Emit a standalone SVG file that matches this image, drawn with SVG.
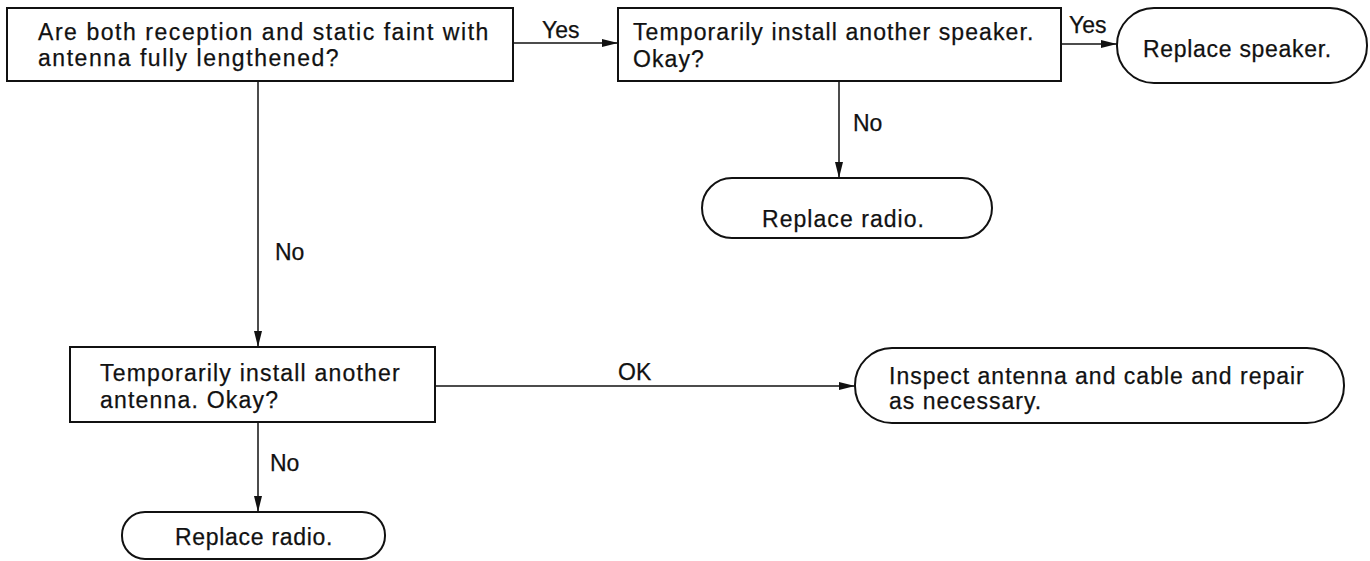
<svg xmlns="http://www.w3.org/2000/svg" width="1370" height="561" viewBox="0 0 1370 561">
<style>
.box{fill:#fff;stroke:#111;stroke-width:2}
.t{font-family:"Liberation Sans",Arial,sans-serif;font-size:23px;fill:#111;stroke:#111;stroke-width:0.25;letter-spacing:1px}
.c{stroke:#111;stroke-width:1.5;fill:none;marker-end:url(#ah)}
</style>
<defs>
<marker id="ah" markerWidth="16" markerHeight="8" refX="16" refY="4" orient="auto" markerUnits="userSpaceOnUse">
<path d="M0,0 L16,4 L0,8 Z" fill="#111"/>
</marker>
</defs>
<rect width="1370" height="561" fill="#fff"/>
<g id="connectors">
<line class="c" x1="513" y1="43" x2="618" y2="43"/>
<line class="c" x1="1061" y1="44" x2="1117" y2="44"/>
<line class="c" x1="839" y1="81" x2="839" y2="178"/>
<line class="c" x1="258" y1="81" x2="258" y2="347"/>
<line class="c" x1="435" y1="386" x2="855" y2="386"/>
<line class="c" x1="258" y1="422" x2="258" y2="512"/>
<text class="t" x="542" y="38" style="letter-spacing:0">Yes</text>
<text class="t" x="1069" y="33" style="letter-spacing:0">Yes</text>
<text class="t" x="853" y="131" style="letter-spacing:0">No</text>
<text class="t" x="275" y="260" style="letter-spacing:0">No</text>
<text class="t" x="270" y="471" style="letter-spacing:0">No</text>
<text class="t" x="618" y="380" style="letter-spacing:0">OK</text>
</g>
<g id="q1">
<rect class="box" x="7" y="8" width="506" height="73"/>
<text class="t" x="38" y="40" style="letter-spacing:1.55px">Are both reception and static faint with</text>
<text class="t" x="38" y="66" style="letter-spacing:1.55px">antenna fully lengthened?</text>
</g>
<g id="q2">
<rect class="box" x="618" y="8" width="443" height="73"/>
<text class="t" x="633" y="40" style="letter-spacing:1.1px">Temporarily install another speaker.</text>
<text class="t" x="633" y="67" style="letter-spacing:1.1px">Okay?</text>
</g>
<g id="replace-speaker">
<rect class="box" x="1117" y="8" width="250" height="75" rx="37" ry="37"/>
<text class="t" x="1143" y="57" style="letter-spacing:0.7px">Replace speaker.</text>
</g>
<g id="replace-radio-1">
<rect class="box" x="702" y="178" width="290" height="60" rx="30" ry="30"/>
<text class="t" x="762" y="227" style="letter-spacing:1.05px">Replace radio.</text>
</g>
<g id="q3">
<rect class="box" x="70" y="347" width="365" height="75"/>
<text class="t" x="100" y="381" style="letter-spacing:1.2px">Temporarily install another</text>
<text class="t" x="100" y="408" style="letter-spacing:1.2px">antenna. Okay?</text>
</g>
<g id="inspect">
<rect class="box" x="855" y="348" width="489" height="75" rx="37" ry="37"/>
<text class="t" x="889" y="384" style="letter-spacing:1px">Inspect antenna and cable and repair</text>
<text class="t" x="889" y="409" style="letter-spacing:1px">as necessary.</text>
</g>
<g id="replace-radio-2">
<rect class="box" x="122" y="512" width="263" height="47" rx="23" ry="23"/>
<text class="t" x="175" y="545" style="letter-spacing:0.7px">Replace radio.</text>
</g>
</svg>
